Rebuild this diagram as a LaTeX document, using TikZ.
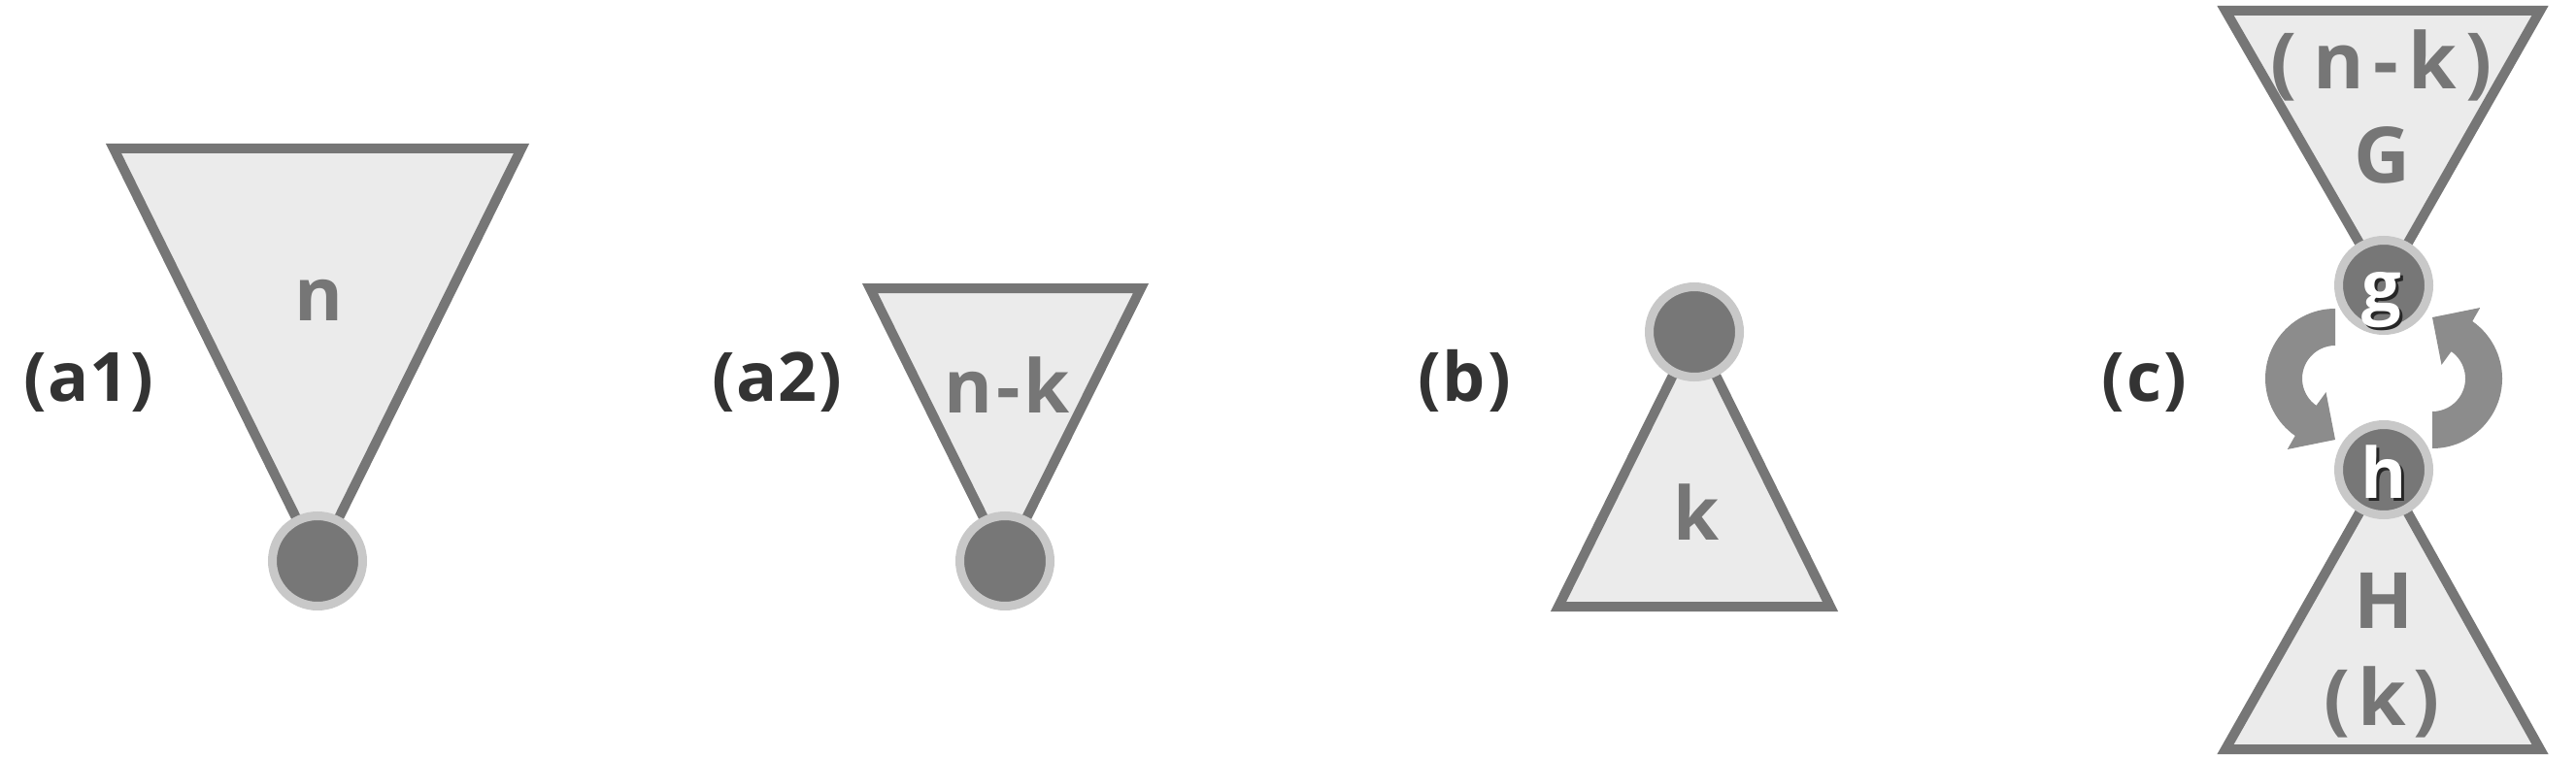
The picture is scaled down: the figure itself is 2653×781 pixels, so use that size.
\documentclass[tikz,border=0pt]{standalone}
\usepackage{fontspec}
\setmainfont{Open Sans}
\usetikzlibrary{calc}
\definecolor{strokegray}{HTML}{767676}
\definecolor{fillgray}{HTML}{EBEBEB}
\definecolor{ringgray}{HTML}{C8C8C8}
\definecolor{dotgray}{HTML}{777777}
\definecolor{arrowgray}{HTML}{8C8C8C}
\definecolor{labeldark}{HTML}{333333}
\tikzset{
  tri/.style={draw=strokegray, fill=fillgray, line width=10pt, line join=miter},
  vtx/.style={circle, fill=dotgray, draw=ringgray, line width=9pt, minimum size=93pt, inner sep=0pt},
  plabel/.style={text=labeldark, font=\fontsize{70}{76}\selectfont\bfseries, anchor=base, inner sep=0pt},
  tlabel/.style={text=strokegray, font=\fontsize{76}{82}\selectfont\bfseries, anchor=base, inner sep=0pt},
  clabel/.style={text=strokegray, font=\fontsize{80}{86}\selectfont\bfseries, anchor=base, inner sep=0pt},
  vlabel/.style={text=white, font=\fontsize{72}{78}\selectfont\bfseries, anchor=base, inner sep=0pt},
  vshadow/.style={text=black!85, font=\fontsize{72}{78}\selectfont\bfseries, anchor=base, inner sep=0pt},
  swaparrow/.style={fill=arrowgray},
}
\begin{document}
\begin{tikzpicture}[x=1pt,y=-1pt]
\useasboundingbox[fill=white] (0,0) rectangle (2653,781);

% centres of the vertices
\coordinate (A1) at (327,578);
\coordinate (A2) at (1035,578);
\coordinate (B) at (1745,342);
\coordinate (Gc) at (2455,294);
\coordinate (Hc) at (2455,484);
\coordinate (CL) at (2405,390);
\coordinate (CR) at (2505,390);

% triangle corners
\coordinate (a1l) at (117,153);
\coordinate (a1r) at (537,153);
\coordinate (a2l) at (896,297);
\coordinate (a2r) at (1175,297);
\coordinate (bl) at (1605,625);
\coordinate (br) at (1885,625);
\coordinate (gl) at (2292,11);
\coordinate (gr) at (2616,11);
\coordinate (hl) at (2292,772);
\coordinate (hr) at (2616,772);

% triangles (subtrees)
\draw[tri] (a1l) -- (a1r) -- (A1) -- cycle;
\draw[tri] (a2l) -- (a2r) -- (A2) -- cycle;
\draw[tri] (bl) -- (br) -- (B) -- cycle;
\draw[tri] (gl) -- (gr) -- (Gc) -- cycle;
\draw[tri] (hl) -- (hr) -- (Hc) -- cycle;

% swap arrows
\fill[swaparrow] ($(CL)+(270:72)$) arc[start angle=270, end angle=125, radius=72]
  -- ($(CL)+(124:88)$) -- ($(CL)+(90:63)$) -- ($(CL)+(124:17)$)
  -- ($(CL)+(125:34)$) arc[start angle=125, end angle=270, radius=34] -- cycle;
\fill[swaparrow] ($(CR)+(90:72)$) arc[start angle=90, end angle=-55, radius=72]
  -- ($(CR)+(-56:88)$) -- ($(CR)+(-90:63)$) -- ($(CR)+(-56:17)$)
  -- ($(CR)+(-55:34)$) arc[start angle=-55, end angle=90, radius=34] -- cycle;

% vertices
\node[vtx] (v1) at (A1) {};
\node[vtx] (v2) at (A2) {};
\node[vtx] (v3) at (B) {};
\node[vtx] (vg) at (Gc) {};
\node[vtx] (vh) at (Hc) {};

% panel labels
\node[plabel] (la1) at (91,413) {(\kern2pt a1\kern2pt)};
\node[plabel] (la2) at (800,413) {(\kern2pt a2\kern2pt)};
\node[plabel] (lb) at (1508,413) {(\kern2pt b\kern2pt)};
\node[plabel] (lc) at (2208,413) {(\kern2pt c\kern2pt)};

% subtree labels
\node[tlabel] (tn) at (328,330) {n};
\node[tlabel] (tnk) at (1037,425) {n\kern4pt-\kern4pt k};
\node[tlabel] (tk) at (1747,556) {k};
\node[clabel] (tnk2) at (2453,92) {(\kern16pt n\kern10pt-\kern10pt k\kern10pt)};
\node[clabel] (tG) at (2453,189) {G};
\node[clabel] (tH) at (2455,647) {H};
\node[clabel] (tk2) at (2453,747) {(\kern8pt k\kern8pt)};

% vertex letters with shadow
\node[vshadow] (gs) at (2456,323) {g};
\node[vlabel] (gt) at (2453,320) {g};
\node[vshadow] (hs) at (2458,516) {h};
\node[vlabel] (ht) at (2455,513) {h};
\end{tikzpicture}
\end{document}
